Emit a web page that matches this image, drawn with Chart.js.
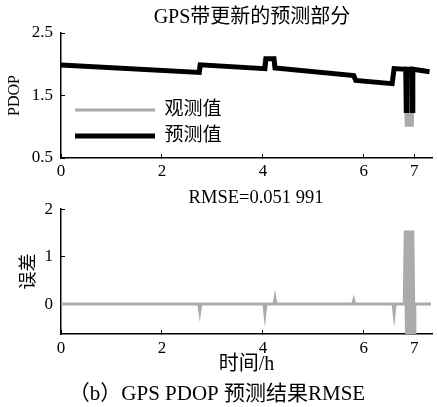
<!DOCTYPE html>
<html>
<head>
<meta charset="utf-8">
<script src="https://cdn.jsdelivr.net/npm/chart.js@4.4.1/dist/chart.umd.min.js"></script>
<style>
  html, body { margin: 0; padding: 0; background: #fff; }
  #wrap { position: relative; width: 438px; height: 407px; overflow: hidden; background: #fff; }
  #c1 { position: absolute; left: 0; top: 0; }
  #c2 { position: absolute; left: 0; top: 180px; }
</style>
</head>
<body>
<div id="wrap">
  <canvas id="c1" width="438" height="185"></canvas>
  <canvas id="c2" width="438" height="227"></canvas>
</div>
<script>
// ---- data ----
const topTitle = 'GPS带更新的预测部分';
const bottomTitle = 'RMSE=0.051 991';
const caption = '（b）GPS PDOP 预测结果RMSE';
const xTitle = '时间/h';
const topYTitle = 'PDOP';
const bottomYTitle = '误差';
const seriesNames = ['观测值', '预测值'];

const xTicks = [0, 2, 4, 6, 7];
const topYTicks = [0.5, 1.5, 2.5];
const bottomYTicks = [0, 1, 2];

// observed PDOP (mostly hidden beneath the prediction)
const obsTimes = [0, 2.71, 2.73, 4.01, 4.03, 4.2, 4.22, 5.78, 5.82, 6.55, 6.58, 6.82, 6.84, 6.87, 6.9, 6.93, 6.96, 6.98, 7.3];
const observed = [1.99, 1.87, 1.99, 1.93, 2.09, 2.09, 1.94, 1.82, 1.74, 1.69, 1.93, 1.92, 1.0, 1.92, 1.0, 1.92, 1.0, 1.92, 1.88];

// predicted PDOP
const predTimes = [0, 2.74, 2.76, 4.04, 4.06, 4.22, 4.24, 5.8, 5.84, 6.56, 6.6, 6.83, 6.84, 6.85, 6.95, 6.96, 6.97, 7.3];
const predicted = [1.99, 1.87, 1.99, 1.93, 2.09, 2.09, 1.94, 1.82, 1.74, 1.69, 1.93, 1.92, 1.26, 1.92, 1.92, 1.26, 1.92, 1.88];

// prediction error
const errTimes = [0, 2.73, 2.75, 2.77, 4.02, 4.04, 4.06, 4.22, 4.24, 4.26, 5.78, 5.8, 5.82, 6.58, 6.6, 6.62, 6.8, 6.82, 6.845, 6.87, 6.895, 6.92, 6.945, 6.97, 6.995, 7.01, 7.33];
const errors   = [0, 0, -0.15, 0, 0, -0.2, 0, 0, 0.12, 0, 0, 0.08, 0, 0, -0.2, 0, 0, 1.55, -0.7, 1.55, -0.7, 1.55, -0.7, 1.55, -0.7, 0, 0];

// ---- helpers ----
const SERIF = "'Liberation Serif', 'Noto Sans CJK SC', serif";
const GREY = '#ababab';
const toXY = (xs, ys) => xs.map((x, i) => ({ x: x, y: ys[i] }));
const setTicks = (vals) => (scale) => { scale.ticks = vals.map(v => ({ value: v })); };
const TICKLEN = -4;   // small inward tick marks, as in the reference

function xAxis(height, padding, withTitle) {
  return {
    type: 'linear', min: 0, max: 7.35,
    afterBuildTicks: setTicks(xTicks),
    afterFit: (s) => { s.height = height; },
    grid: { display: true, drawOnChartArea: false, drawTicks: true, tickLength: TICKLEN, color: '#000', lineWidth: 1 },
    border: { display: true, color: '#000', width: 1.5 },
    ticks: { color: '#000', font: { family: SERIF, size: 17 }, padding: padding - TICKLEN, maxRotation: 0,
             callback: (v) => String(v) },
    title: withTitle ? { display: true, text: xTitle, color: '#000',
             font: { family: SERIF, size: 20 }, padding: { top: 0, bottom: 2 } } : { display: false }
  };
}
function yAxis(min, max, vals, title, tsize, tpad) {
  return {
    type: 'linear', min: min, max: max,
    afterBuildTicks: setTicks(vals),
    afterFit: (s) => { s.width = 61; },
    grid: { display: true, drawOnChartArea: false, drawTicks: true, tickLength: TICKLEN, color: '#000', lineWidth: 1 },
    border: { display: true, color: '#000', width: 1.5 },
    ticks: { color: '#000', font: { family: SERIF, size: 17 }, padding: 8 - TICKLEN, callback: (v) => String(v) },
    title: { display: true, text: title, color: '#000', font: { family: SERIF, size: tsize },
             padding: { top: tpad, bottom: 0 } }
  };
}

// re-centre title blocks and place the legend inside the plot (positions only)
function placeBlocks(centres, legendBox) {
  return {
    id: 'placeBlocks',
    afterLayout(chart) {
      chart.boxes.forEach((b) => {
        const t = b.options && b.options.text;
        if (typeof t === 'string' && centres[t] !== undefined && b.options.display) {
          b.left = centres[t] - 160; b.right = centres[t] + 160; b.width = 320;
        }
      });
      const lg = chart.legend;
      if (lg && legendBox) {
        lg.left = legendBox.left; lg.right = legendBox.left + 240;
        lg.top = legendBox.top; lg.bottom = legendBox.top + 70;
        lg.width = 240; lg.height = 70;
      }
    }
  };
}

Chart.defaults.animation = false;
Chart.defaults.color = '#000';

const topCentres = {}; topCentres[topTitle] = 252;
new Chart(document.getElementById('c1'), {
  type: 'line',
  data: {
    datasets: [
      { label: seriesNames[0], data: toXY(obsTimes, observed), borderColor: GREY,
        backgroundColor: GREY, borderWidth: 3, pointRadius: 0, tension: 0, order: 1 },
      { label: seriesNames[1], data: toXY(predTimes, predicted), borderColor: '#000',
        backgroundColor: '#000', borderWidth: 5, pointRadius: 0, tension: 0, order: 0 }
    ]
  },
  options: {
    responsive: false, devicePixelRatio: 1, events: [],
    layout: { padding: { top: 0, right: 6, bottom: 0, left: 0 } },
    scales: {
      x: xAxis(27, 3, false),
      y: yAxis(0.5, 2.5, topYTicks, topYTitle, 16, 5.4)
    },
    plugins: {
      title: { display: true, text: topTitle, color: '#000', font: { family: SERIF, size: 20, weight: 'normal' },
               padding: { top: 6, bottom: 3 } },
      legend: {
        display: true, position: 'chartArea', align: 'start',
        labels: { usePointStyle: true, pointStyle: 'line', pointStyleWidth: 80, padding: 7,
                  color: '#000', font: { family: SERIF, size: 19 },
                  sort: (a, b) => a.datasetIndex - b.datasetIndex }
      },
      tooltip: { enabled: false }
    }
  },
  plugins: [placeBlocks(topCentres, { left: 68, top: 93.5 })]
});

const botCentres = {}; botCentres[bottomTitle] = 256; botCentres[caption] = 217;
new Chart(document.getElementById('c2'), {
  type: 'line',
  data: {
    datasets: [
      { label: bottomYTitle, data: toXY(errTimes, errors), borderColor: GREY,
        borderWidth: 3, pointRadius: 0, tension: 0 }
    ]
  },
  options: {
    responsive: false, devicePixelRatio: 1, events: [],
    layout: { padding: { top: 0, right: 6, bottom: 0, left: 0 } },
    scales: {
      x: xAxis(44.8, 4, true),
      y: yAxis(-0.63, 2, bottomYTicks, bottomYTitle, 18, 18.2)
    },
    plugins: {
      title: { display: true, text: bottomTitle, color: '#000', font: { family: SERIF, size: 18.5, weight: 'normal' },
               padding: { top: 7, bottom: 0 } },
      subtitle: { display: true, text: caption, position: 'bottom', color: '#000',
                  font: { family: SERIF, size: 21, weight: 'normal' }, padding: { top: 3, bottom: 0 } },
      legend: { display: false },
      tooltip: { enabled: false }
    }
  },
  plugins: [placeBlocks(botCentres, null)]
});
</script>
</body>
</html>
